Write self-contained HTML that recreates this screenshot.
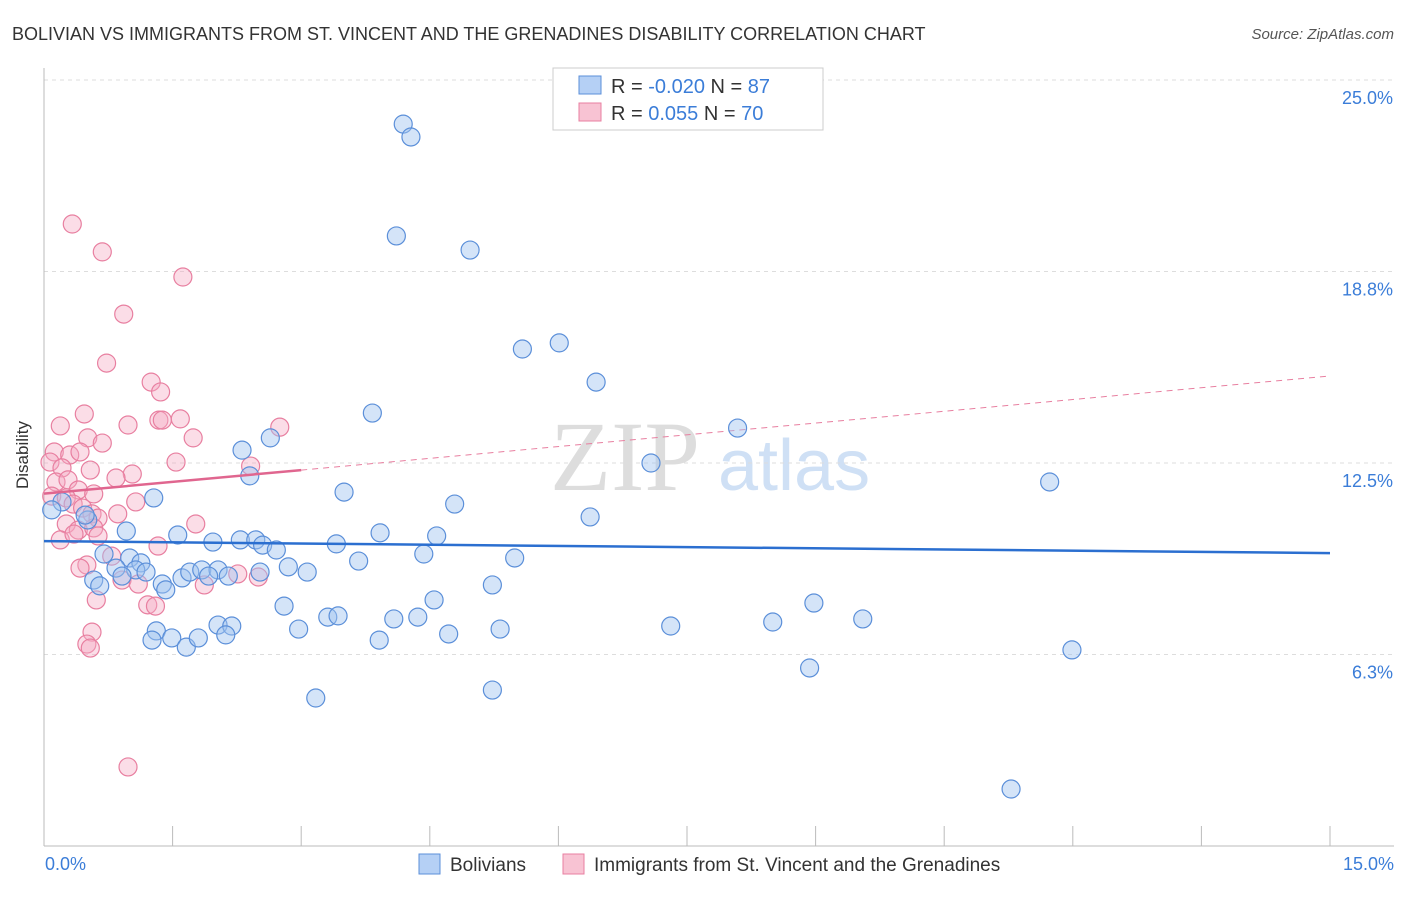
<!DOCTYPE html>
<html><head><meta charset="utf-8"><style>
body{margin:0;background:#fff;font-family:"Liberation Sans",sans-serif;}
</style></head><body>
<svg width="1406" height="892" xmlns="http://www.w3.org/2000/svg" style="font-family:'Liberation Sans',sans-serif">
<text x="12" y="40" font-size="18" fill="#333">BOLIVIAN VS IMMIGRANTS FROM ST. VINCENT AND THE GRENADINES DISABILITY CORRELATION CHART</text>
<text x="1394" y="39" font-size="15" fill="#555" text-anchor="end" font-style="italic">Source: ZipAtlas.com</text>
<text x="700" y="490" font-size="100" fill="#ddd" text-anchor="end" font-family="Liberation Serif">ZIP</text>
<text x="718" y="490" font-size="72" fill="#cfe0f5">atlas</text>
<g id="grid"></g><g id="axes"></g><g id="lines"></g><g id="pts"></g>
<text x="28" y="455" font-size="17" fill="#333" text-anchor="middle" transform="rotate(-90 28 455)">Disability</text>
<text x="45" y="870" font-size="18" fill="#3b7dd8">0.0%</text>
<text x="1394" y="870" font-size="18" fill="#3b7dd8" text-anchor="end">15.0%</text>
<g>
<rect x="553" y="68" width="270" height="62" fill="#fff" stroke="#ccc"/>
<rect x="579" y="76" width="22" height="18" fill="#b5d0f5" stroke="#5b8fd9"/>
<rect x="579" y="103" width="22" height="18" fill="#f8c3d3" stroke="#e87fa0"/>
<text x="611" y="93" font-size="20" fill="#333">R = <tspan fill="#3b7dd8">-0.020</tspan>   N = <tspan fill="#3b7dd8">87</tspan></text>
<text x="611" y="120" font-size="20" fill="#333">R =  <tspan fill="#3b7dd8"> 0.055</tspan>   N = <tspan fill="#3b7dd8">70</tspan></text>
</g>
<g>
<rect x="419" y="854" width="21" height="20" fill="#b5d0f5" stroke="#5b8fd9"/>
<text x="450" y="871" font-size="19" fill="#333">Bolivians</text>
<rect x="563" y="854" width="21" height="20" fill="#f8c3d3" stroke="#e87fa0"/>
<text x="594" y="871" font-size="19" fill="#333">Immigrants from St. Vincent and the Grenadines</text>
</g>
</svg>
<script>
const yTicks=[6.25,12.5,18.75,25];
const yTickLabels=["6.3%","12.5%","18.8%","25.0%"];
const blueX=[4.19,4.28,4.11,4.97,5.58,6.01,6.44,3.83,8.09,2.64,2.31,2.40,7.08,11.73,1.28,3.50,4.79,6.37,0.51,0.48,0.21,0.96,1.56,1.97,2.29,2.47,2.55,2.71,3.41,3.92,4.58,4.43,3.67,5.49,0.70,1.00,1.13,0.84,1.07,1.19,0.91,0.58,0.65,1.38,1.42,1.61,1.70,1.84,2.03,1.92,2.15,2.52,2.85,3.07,5.23,4.55,2.80,3.31,3.43,4.08,4.36,1.31,1.49,1.26,1.66,1.80,2.03,2.19,2.12,2.97,3.91,4.72,5.32,7.31,8.50,8.98,9.55,8.93,11.99,3.17,5.23,11.28,0.09];
const blueY=[23.56,23.14,19.91,19.45,16.22,16.42,15.14,14.13,13.64,13.32,12.92,12.08,12.50,11.88,11.36,11.55,11.16,10.74,10.64,10.80,11.23,10.28,10.15,9.92,9.99,9.99,9.82,9.66,9.86,10.22,10.12,9.53,9.30,9.40,9.53,9.40,9.24,9.07,9.01,8.94,8.81,8.68,8.49,8.55,8.36,8.75,8.94,9.01,9.01,8.81,8.81,8.94,9.11,8.94,8.52,8.03,7.83,7.47,7.51,7.41,7.47,7.02,6.79,6.72,6.49,6.79,7.21,7.18,6.89,7.08,6.72,6.92,7.08,7.18,7.31,7.93,7.41,5.81,6.40,4.83,5.09,1.86,10.97];
const pinkX=[0.33,0.68,1.62,0.93,0.73,1.25,1.36,0.47,0.19,0.98,1.34,1.38,1.59,0.51,0.68,1.74,2.75,0.12,0.30,0.07,0.21,1.54,0.54,2.41,1.03,0.84,0.14,0.28,0.40,0.58,0.09,0.26,0.34,0.45,1.07,0.56,0.86,0.63,0.26,0.40,0.58,1.77,0.19,0.35,0.63,1.33,0.79,0.50,0.42,0.91,1.10,0.61,1.21,1.30,2.50,0.56,0.50,0.54,0.98,1.87,2.26,0.42];
const pinkY=[20.30,19.39,18.57,17.36,15.76,15.14,14.82,14.10,13.71,13.74,13.90,13.90,13.94,13.32,13.15,13.32,13.67,12.86,12.76,12.53,12.34,12.53,12.27,12.40,12.14,12.01,11.88,11.95,11.62,11.49,11.42,11.36,11.16,11.03,11.23,10.84,10.84,10.70,10.51,10.31,10.38,10.51,9.99,10.18,10.12,9.79,9.46,9.17,9.07,8.68,8.55,8.03,7.87,7.83,8.78,6.98,6.59,6.46,2.58,8.52,8.88,12.86];
const blueLine=[9.95,9.56];
const pinkLine=[11.5,15.34];
const pinkSolidEnd=3.0;
const NS="http://www.w3.org/2000/svg";
const xs=v=>44+v/15*1286, ys=v=>846-v/6.25*191.5;
function mk(p,t,a){const e=document.createElementNS(NS,t);for(const k in a)e.setAttribute(k,a[k]);document.getElementById(p).appendChild(e);return e;}
yTicks.forEach((t,i)=>{
 const g=mk('grid','line',{x1:44,x2:1394,y1:ys(t),y2:ys(t),stroke:'#ddd','stroke-dasharray':'4,4'});
 
 
 const l=mk('grid','text',{x:1393,y:ys(t)+24,'font-size':18,fill:'#3b7dd8','text-anchor':'end'});
 l.textContent=yTickLabels[i];
 
 
});
const ax=mk('axes','line',{x1:44,x2:44,y1:68,y2:846,stroke:'#bbb'});


const bx=mk('axes','line',{x1:44,x2:1394,y1:846,y2:846,stroke:'#bbb'});


for(let i=0;i<=10;i++){const t=mk('axes','line',{x1:xs(i*1.5),x2:xs(i*1.5),y1:826,y2:846,stroke:'#bbb'});
 
 }
const pAt=x=>pinkLine[0]+(pinkLine[1]-pinkLine[0])*x/15;
const pd=mk('lines','line',{x1:xs(pinkSolidEnd),y1:ys(pAt(pinkSolidEnd)),x2:xs(15),y2:ys(pAt(15)),stroke:'#e87fa0','stroke-dasharray':'6,5','stroke-width':1});


function dots(X,Y,fill,stroke,name){X.forEach((x,i)=>{const c=mk('pts','circle',{cx:xs(x),cy:ys(Y[i]),r:9,fill:fill,stroke:stroke,'stroke-width':1.2});
 
 });}
dots(pinkX,pinkY,'rgba(244,170,195,0.4)','#e87fa0','pink-point');
dots(blueX,blueY,'rgba(160,196,240,0.45)','#5b8fd9','blue-point');
const bl=mk('pts','line',{x1:xs(0),y1:ys(blueLine[0]),x2:xs(15),y2:ys(blueLine[1]),stroke:'#2b6fd0','stroke-width':2.5});


const ps=mk('pts','line',{x1:xs(0),y1:ys(pAt(0)),x2:xs(pinkSolidEnd),y2:ys(pAt(pinkSolidEnd)),stroke:'#e0668f','stroke-width':2.5});


</script>
</body></html>
